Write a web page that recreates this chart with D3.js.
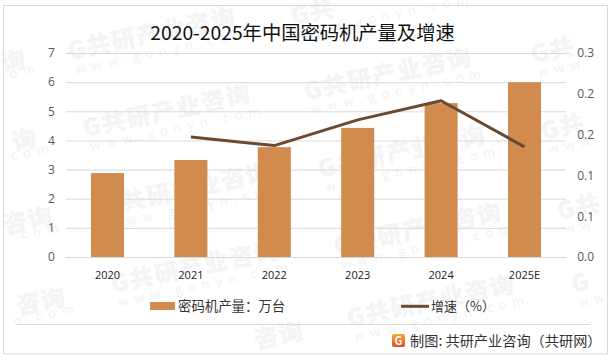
<!DOCTYPE html>
<html lang="zh">
<head>
  <meta charset="UTF-8">
  <title>2020-2025年中国密码机产量及增速</title>
  <script src="https://d3js.org/d3.v7.min.js"></script>
  <style>
    html, body { margin: 0; padding: 0; background: #fff; }
    svg { display: block; font-family: "Noto Sans CJK SC", "Liberation Sans", sans-serif; }
    .tick-left text, .tick-right text { font-size: 12px; fill: #595959; font-family: "Open Sans", "DejaVu Sans", sans-serif; }
    .tick-x text { font-size: 11px; fill: #222; font-family: "Open Sans", "DejaVu Sans", sans-serif; }
    .wm-name { font-weight: 900; fill: #f4f4f4; font-size: 24px; letter-spacing: 1.4px; }
    .wm-url { fill: #f2f2f2; font-size: 13px; letter-spacing: 6px; }
  </style>
</head>
<body>
  <svg width="612" height="360"></svg>
  <script>
    const categories = ['2020', '2021', '2022', '2023', '2024', '2025E'];
    const output = [2.88, 3.33, 3.77, 4.43, 5.28, 6.0];
    const growth = [null, 0.147, 0.1365, 0.168, 0.1915, 0.135];
    const leftTicks = [0, 1, 2, 3, 4, 5, 6, 7];
    const rightTicks = [0, 0.05, 0.1, 0.15, 0.2, 0.25];
    const rightLabels = ['0.0', '0.1', '0.1', '0.2', '0.2', '0.3'];

    const svg = d3.select('svg');
    const chartW = 612, chartH = 360;
    const plotLeft = 65.8, plotRight = 566.2, plotTop = 53, plotBottom = 257;

    svg.append('rect').attr('width', chartW).attr('height', chartH).attr('fill', '#fff');

    // Watermarks sit behind everything; the ones at the edges only show the part that fits
    const stamps = svg.append('g');
    function stamp(sx, sy, name, url, ux, uy) {
      const g = stamps.append('g').attr('transform', `translate(${sx},${sy}) rotate(-12)`);
      g.append('text').attr('class', 'wm-name').text(name);
      if (url) g.append('text').attr('class', 'wm-url').attr('x', ux).attr('y', uy).text(url);
    }
    const full = 'G共研产业咨询', site = 'www.gonyn.com';
    // left column
    stamp(3, 72, '询', 'om', 6, 8);
    stamp(14, 151, '询', 'com', -4, 9);
    stamp(5, 234, '咨询', '.com', 6, 9);
    stamp(18, 315, '咨询', 'n.com', -6, 10);
    // second column
    stamp(70, 60, full, site, 3, 15);
    stamp(85, 137, full, site, 3, 15);
    stamp(105, 215, full, site, 3, 15);
    stamp(113, 293, full, site, 3, 15);
    stamp(256, 349, '咨询');
    // third column
    stamp(293, 25, 'G共', site, 3, 15);
    stamp(306, 100, full, site, 3, 15);
    stamp(320, 178, full, site, 3, 15);
    stamp(336, 255, full, site, 3, 15);
    stamp(349, 327, full, site, 3, 15);
    // right column
    stamp(533, 63, 'G共', 'www', 3, 15);
    stamp(543, 140, 'G共', 'www', 3, 15);
    stamp(559, 220, 'G共', 'ww', 3, 15);
    stamp(573, 293, 'G', 'ww', 3, 15);

    // Frame
    svg.append('rect').attr('x', 3.5).attr('y', 5.5).attr('width', 604).attr('height', 348.5)
      .attr('fill', 'none').attr('stroke', '#d9d9d9').attr('stroke-width', 1);

    const x = d3.scaleBand().domain(categories).range([plotLeft, plotRight]).paddingInner(0.604).paddingOuter(0.302);
    const xCenter = d => x(d) + x.bandwidth() / 2;
    const yLeft = d3.scaleLinear().domain([0, 7]).range([plotBottom, plotTop]);
    const yRight = d3.scaleLinear().domain([0, 0.25]).range([plotBottom, plotTop]);

    // Gridlines
    svg.append('g')
      .attr('transform', `translate(${plotLeft},0)`)
      .call(d3.axisLeft(yLeft).tickValues(leftTicks).tickSize(-(plotRight - plotLeft)).tickFormat(''))
      .call(g => g.select('.domain').remove())
      .call(g => g.selectAll('line').attr('stroke', '#d9d9d9'));

    // Bars
    svg.append('g').selectAll('rect')
      .data(output)
      .enter()
      .append('rect')
      .attr('x', (d, i) => x(categories[i]))
      .attr('y', d => yLeft(d))
      .attr('width', x.bandwidth())
      .attr('height', d => plotBottom - yLeft(d))
      .attr('fill', '#d18b4f');

    // Growth line
    const line = d3.line()
      .defined(d => d !== null)
      .x((d, i) => xCenter(categories[i]))
      .y(d => yRight(d));
    svg.append('path')
      .datum(growth)
      .attr('d', line)
      .attr('fill', 'none')
      .attr('stroke', '#6a4a30')
      .attr('stroke-width', 3)
      .attr('stroke-linejoin', 'round');

    // Axes
    svg.append('g')
      .attr('class', 'tick-left')
      .attr('transform', `translate(${plotLeft},0)`)
      .call(d3.axisLeft(yLeft).tickValues(leftTicks).tickSize(0).tickPadding(11).tickFormat(d3.format('d')))
      .call(g => g.select('.domain').remove());

    svg.append('g')
      .attr('class', 'tick-right')
      .attr('transform', `translate(${plotRight},0)`)
      .call(d3.axisRight(yRight).tickValues(rightTicks).tickSize(0).tickPadding(11).tickFormat((d, i) => rightLabels[i]))
      .call(g => g.select('.domain').remove());

    svg.append('g')
      .attr('class', 'tick-x')
      .attr('transform', `translate(0,${plotBottom})`)
      .call(d3.axisBottom(x).tickSize(0).tickPadding(14))
      .call(g => g.select('.domain').remove());

    // Title
    svg.append('text')
      .attr('x', 302.5)
      .attr('y', 39.5)
      .attr('text-anchor', 'middle')
      .attr('font-size', 19.3)
      .attr('fill', '#111')
      .text('2020-2025年中国密码机产量及增速');

    // Legend
    svg.append('rect').attr('x', 150).attr('y', 302).attr('width', 25).attr('height', 8).attr('fill', '#d18b4f');
    svg.append('text').attr('x', 178).attr('y', 311).attr('font-size', 13.4).attr('fill', '#333').text('密码机产量：万台');
    svg.append('line').attr('x1', 401).attr('x2', 429).attr('y1', 306.3).attr('y2', 306.3)
      .attr('stroke', '#6a4a30').attr('stroke-width', 3);
    svg.append('text').attr('x', 431).attr('y', 311).attr('font-size', 13).attr('fill', '#333').text('增速（%）');

    // Footer
    svg.append('line').attr('x1', 16).attr('x2', 590).attr('y1', 324.5).attr('y2', 324.5)
      .attr('stroke', '#d9d9d9');
    const logoGrad = svg.append('defs').append('linearGradient')
      .attr('id', 'logo').attr('x1', 0).attr('y1', 0).attr('x2', 0).attr('y2', 1);
    logoGrad.append('stop').attr('offset', 0).attr('stop-color', '#f9a82f');
    logoGrad.append('stop').attr('offset', 1).attr('stop-color', '#e8492a');
    svg.append('rect').attr('x', 392).attr('y', 334).attr('width', 13).attr('height', 13).attr('rx', 2).attr('fill', 'url(#logo)');
    svg.append('text').attr('x', 394.5).attr('y', 345).attr('font-size', 11).attr('font-weight', 700).attr('fill', '#fff').text('G');
    svg.append('text').attr('x', 410).attr('y', 346).attr('font-size', 14.2).attr('fill', '#333').text('制图: 共研产业咨询（共研网）');
  </script>
</body>
</html>
